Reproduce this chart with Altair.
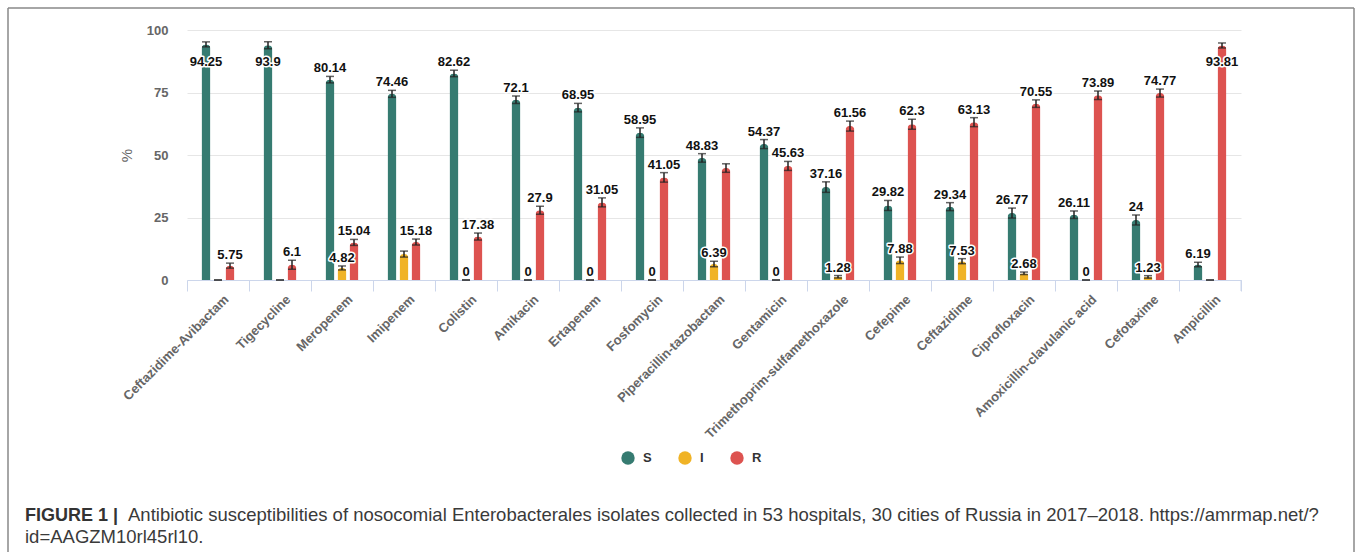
import altair as alt
import pandas as pd

categories = [
    "Ceftazidime-Avibactam", "Tigecycline", "Meropenem", "Imipenem", "Colistin",
    "Amikacin", "Ertapenem", "Fosfomycin", "Piperacillin-tazobactam", "Gentamicin",
    "Trimethoprim-sulfamethoxazole", "Cefepime", "Ceftazidime", "Ciprofloxacin",
    "Amoxicillin-clavulanic acid", "Cefotaxime", "Ampicillin",
]
series = ["S", "I", "R"]
s_values = [94.25, 93.9, 80.14, 74.46, 82.62, 72.1, 68.95, 58.95, 48.83, 54.37, 37.16, 29.82, 29.34, 26.77, 26.11, 24, 6.19]
i_values = [0, 0, 4.82, 10.36, 0, 0, 0, 0, 6.39, 0, 1.28, 7.88, 7.53, 2.68, 0, 1.23, 0]
r_values = [5.75, 6.1, 15.04, 15.18, 17.38, 27.9, 31.05, 41.05, 44.78, 45.63, 61.56, 62.3, 63.13, 70.55, 73.89, 74.77, 93.81]
s_err = [1.0, 1.4, 1.3, 1.4, 1.3, 1.5, 1.7, 1.9, 1.7, 1.8, 2.1, 2.0, 1.6, 2.0, 1.5, 2.0, 0.9]
i_err = [0, 0, 0.8, 1.2, 0, 0, 0, 0, 1.1, 0, 0.5, 1.3, 1.0, 0.5, 0, 0.5, 0]
r_err = [1.0, 1.8, 1.2, 1.2, 1.4, 1.6, 1.8, 1.9, 1.7, 1.8, 2.0, 2.0, 1.8, 1.5, 1.7, 1.6, 1.0]
s_show = [True] * 17
i_show = [False, False, True, False, True, True, True, True, True, True, True, True, True, True, True, True, False]
r_show = [True] * 8 + [False] + [True] * 8
colors = ["#367b71", "#f0b326", "#dd5350"]
y_ticks = [0, 25, 50, 75, 100]
caption_bold = "FIGURE 1 |"
caption_line1 = ("Antibiotic susceptibilities of nosocomial Enterobacterales isolates collected in 53 "
                 "hospitals, 30 cities of Russia in 2017\u20132018. https://amrmap.net/?")
caption_line2 = "id=AAGZM10rl45rl10."

rows = []
for name, vals, errs, shows in zip(series, [s_values, i_values, r_values],
                                   [s_err, i_err, r_err], [s_show, i_show, r_show]):
    for c, v, e, sh in zip(categories, vals, errs, shows):
        rows.append(dict(antibiotic=c, cat=name, value=v, err=e, show=sh))
df = pd.DataFrame(rows)

W, H = 1054, 250
FONT = "Liberation Sans"

x_enc = alt.X(
    "antibiotic:N", sort=categories, title=None,
    scale=alt.Scale(paddingInner=0, paddingOuter=0),
    axis=alt.Axis(
        labelAngle=-45, labelAlign="right", labelBaseline="middle",
        labelFontSize=13, labelFontWeight="bold", labelColor="#666666", labelFont=FONT,
        labelOffset=8, labelPadding=6, tickBand="extent", tickSize=11, labelLimit=0,
        tickColor="#ccd6eb", domainColor="#ccd6eb", grid=False, labelOverlap=False,
    ),
)
xo_enc = alt.XOffset("cat:N", sort=series,
                     scale=alt.Scale(paddingInner=0.25, paddingOuter=0, range=[14.5, 47.5]))
y_scale = alt.Scale(domain=[0, 100], nice=False)

base = alt.Chart(df).encode(x=x_enc, xOffset=xo_enc)

bars = base.mark_bar(cornerRadiusTopLeft=4, cornerRadiusTopRight=4).encode(
    y=alt.Y("value:Q", scale=y_scale, title="%",
            axis=alt.Axis(values=y_ticks, domain=False, ticks=False, labelPadding=19,
                          labelFontSize=13, labelFontWeight="bold", labelColor="#666666",
                          labelFont=FONT, gridColor="#e6e6e6", titleColor="#666666",
                          titleFontSize=15, titleFontWeight="normal", titleFont=FONT,
                          titlePadding=12)),
    color=alt.Color("cat:N", sort=series, scale=alt.Scale(domain=series, range=colors),
                    legend=alt.Legend(title=None, orient="none", legendX=434, legendY=421,
                                      direction="horizontal", symbolType="circle",
                                      symbolSize=180, symbolStrokeWidth=0,
                                      labelFontSize=13, labelFontWeight="bold",
                                      labelColor="#333333", labelFont=FONT,
                                      labelOffset=8, columnPadding=26, padding=0)),
)

err_base = base.transform_calculate(
    lo="max(0, datum.value - datum.err)", hi="datum.value + datum.err"
)
err_rule = err_base.mark_rule(color="#222222", strokeWidth=1.5).encode(
    y=alt.Y("lo:Q", scale=y_scale), y2="hi:Q"
)
cap_lo = err_base.mark_tick(color="#222222", thickness=1.5, size=8).encode(
    y=alt.Y("lo:Q", scale=y_scale)
)
cap_hi = err_base.mark_tick(color="#222222", thickness=1.5, size=8).encode(
    y=alt.Y("hi:Q", scale=y_scale)
)

lab_base = base.transform_filter("datum.show").transform_calculate(
    laby="min(datum.value + datum.err, 84)"
)
lab_enc = dict(y=alt.Y("laby:Q", scale=y_scale), text=alt.Text("value:Q", format="~g"))
halo = lab_base.mark_text(font=FONT, fontSize=13, fontWeight="bold", baseline="alphabetic",
                          dy=-4, stroke="white", strokeWidth=3, strokeJoin="round",
                          color="white").encode(**lab_enc)
labels = lab_base.mark_text(font=FONT, fontSize=13, fontWeight="bold", baseline="alphabetic",
                            dy=-4, color="#111111").encode(**lab_enc)

one = pd.DataFrame({"k": [0]})
last_tick = alt.Chart(one).mark_rule(color="#ccd6eb").encode(
    x=alt.value(W), y=alt.value(H), y2=alt.value(H + 11))
frame_l = alt.Chart(one).mark_rule(color="#888888", strokeWidth=1.5).encode(
    x=alt.value(-179), y=alt.value(-22), y2=alt.value(530))
frame_r = alt.Chart(one).mark_rule(color="#888888", strokeWidth=1.5).encode(
    x=alt.value(1167), y=alt.value(-22), y2=alt.value(530))
frame_t = alt.Chart(one).mark_rule(color="#888888", strokeWidth=1.5).encode(
    x=alt.value(-179), x2=alt.value(1167), y=alt.value(-22))

cap1b = alt.Chart(one).mark_text(font=FONT, fontSize=18, fontWeight="bold", align="left",
                                 baseline="alphabetic", color="#333333").encode(
    x=alt.value(-162), y=alt.value(491), text=alt.value(caption_bold))
cap1 = alt.Chart(one).mark_text(font=FONT, fontSize=18.5, align="left",
                                baseline="alphabetic", color="#3a3a3a").encode(
    x=alt.value(-59), y=alt.value(491), text=alt.value(caption_line1))
cap2 = alt.Chart(one).mark_text(font=FONT, fontSize=18.5, align="left",
                                baseline="alphabetic", color="#3a3a3a").encode(
    x=alt.value(-162), y=alt.value(513), text=alt.value(caption_line2))

chart = alt.layer(
    bars, err_rule, cap_lo, cap_hi, halo, labels, last_tick,
    frame_l, frame_r, frame_t, cap1b, cap1, cap2,
).properties(
    width=W, height=H,
    autosize=alt.AutoSizeParams(type="none"),
    padding={"left": 187, "top": 30, "right": 117, "bottom": 272},
    background="white",
).configure_view(strokeWidth=0)

chart.save("out.html", embed_options={"renderer": "svg", "actions": False})
